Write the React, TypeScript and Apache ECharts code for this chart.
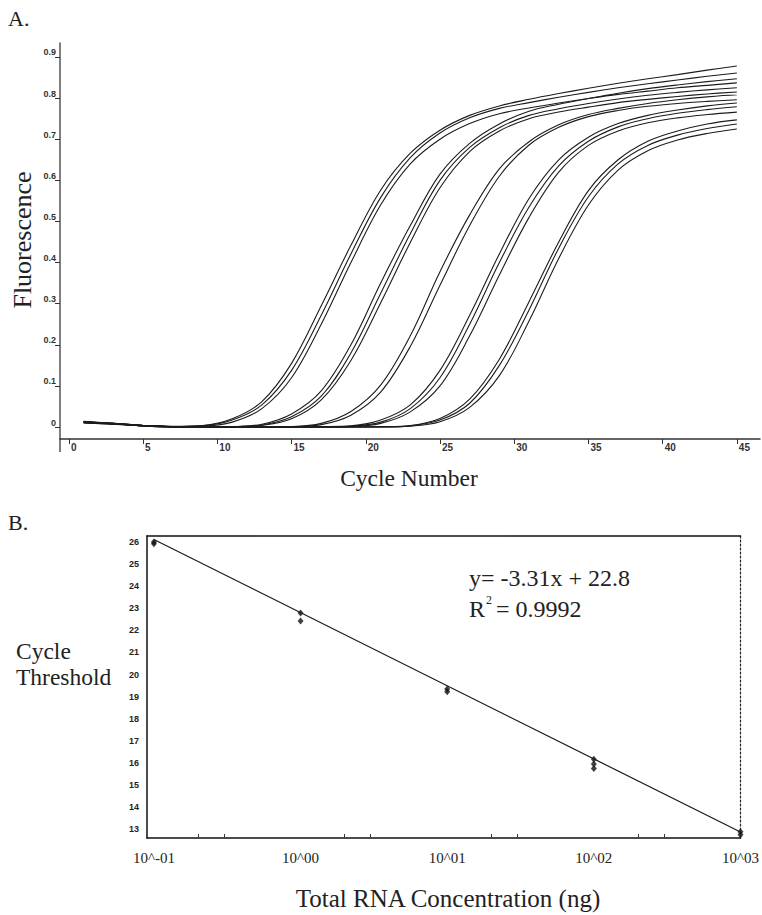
import React, { useEffect, useRef } from "react";
import * as echarts from "echarts";

// ---------- Panel A: amplification curves ----------
const cycles = [1, 3, 5, 7, 9, 11, 13, 15, 17, 19, 21, 23, 25, 27, 29, 31, 33, 35, 37, 39, 41, 43, 45];

const curveG1a = [0.014, 0.009, 0.004, 0.002, 0.004, 0.020, 0.062, 0.155, 0.295, 0.442, 0.576, 0.666, 0.722, 0.758, 0.781, 0.797, 0.811, 0.824, 0.836, 0.847, 0.857, 0.868, 0.878];
const curveG1b = [0.012, 0.008, 0.004, 0.001, 0.003, 0.017, 0.054, 0.138, 0.272, 0.421, 0.558, 0.655, 0.715, 0.752, 0.775, 0.789, 0.802, 0.814, 0.825, 0.835, 0.844, 0.853, 0.861];
const curveG1c = [0.010, 0.007, 0.003, 0.001, 0.002, 0.012, 0.045, 0.120, 0.250, 0.400, 0.540, 0.640, 0.700, 0.738, 0.762, 0.776, 0.788, 0.799, 0.809, 0.817, 0.825, 0.831, 0.837];
const curveG2a = [0.013, 0.009, 0.004, 0.001, 0.000, 0.001, 0.007, 0.032, 0.088, 0.200, 0.350, 0.490, 0.615, 0.690, 0.737, 0.768, 0.785, 0.799, 0.812, 0.823, 0.832, 0.840, 0.847];
const curveG2b = [0.011, 0.008, 0.003, 0.000, 0.000, 0.001, 0.005, 0.025, 0.075, 0.180, 0.325, 0.470, 0.600, 0.680, 0.728, 0.758, 0.774, 0.787, 0.798, 0.807, 0.814, 0.820, 0.825];
const curveG2c = [0.012, 0.008, 0.004, 0.001, 0.000, 0.000, 0.004, 0.020, 0.066, 0.162, 0.302, 0.449, 0.582, 0.670, 0.720, 0.750, 0.766, 0.778, 0.789, 0.797, 0.804, 0.810, 0.815];
const curveG3a = [0.010, 0.007, 0.003, 0.000, 0.000, 0.000, 0.000, 0.001, 0.009, 0.038, 0.102, 0.222, 0.378, 0.516, 0.628, 0.694, 0.735, 0.760, 0.775, 0.787, 0.796, 0.803, 0.808];
const curveG3b = [0.012, 0.008, 0.003, 0.001, 0.000, 0.000, 0.000, 0.001, 0.006, 0.029, 0.085, 0.196, 0.345, 0.490, 0.610, 0.686, 0.729, 0.755, 0.770, 0.780, 0.787, 0.792, 0.796];
const curveG4a = [0.013, 0.009, 0.004, 0.001, 0.000, 0.000, 0.000, 0.000, 0.001, 0.003, 0.017, 0.054, 0.138, 0.272, 0.421, 0.556, 0.650, 0.705, 0.738, 0.758, 0.771, 0.781, 0.788];
const curveG4b = [0.011, 0.008, 0.003, 0.001, 0.000, 0.000, 0.000, 0.000, 0.000, 0.002, 0.012, 0.045, 0.120, 0.250, 0.400, 0.535, 0.635, 0.695, 0.730, 0.750, 0.763, 0.772, 0.779];
const curveG4c = [0.012, 0.008, 0.004, 0.001, 0.000, 0.000, 0.000, 0.000, 0.000, 0.001, 0.009, 0.037, 0.100, 0.222, 0.370, 0.510, 0.620, 0.685, 0.720, 0.740, 0.752, 0.760, 0.766];
const curveG5a = [0.013, 0.009, 0.004, 0.001, 0.000, 0.000, 0.000, 0.000, 0.000, 0.000, 0.001, 0.004, 0.021, 0.068, 0.165, 0.305, 0.450, 0.575, 0.650, 0.695, 0.720, 0.737, 0.747];
const curveG5b = [0.011, 0.008, 0.003, 0.000, 0.000, 0.000, 0.000, 0.000, 0.000, 0.000, 0.000, 0.003, 0.017, 0.058, 0.150, 0.285, 0.435, 0.560, 0.640, 0.685, 0.710, 0.726, 0.737];
const curveG5c = [0.012, 0.008, 0.004, 0.001, 0.000, 0.000, 0.000, 0.000, 0.000, 0.000, 0.000, 0.002, 0.013, 0.048, 0.125, 0.258, 0.410, 0.540, 0.625, 0.672, 0.698, 0.714, 0.725];

const curvesA = [
  curveG1a, curveG1b, curveG1c,
  curveG2a, curveG2b, curveG2c,
  curveG3a, curveG3b,
  curveG4a, curveG4b, curveG4c,
  curveG5a, curveG5b, curveG5c,
];

const xTicksA = [0, 5, 10, 15, 20, 25, 30, 35, 40, 45];
const xLabelsA = ["0", "5", "10", "15", "20", "25", "30", "35", "40", "45"];
const yTicksA = [0, 0.1, 0.2, 0.3, 0.4, 0.5, 0.6, 0.7, 0.8, 0.9];
const yLabelsA = ["0", "0.1", "0.2", "0.3", "0.4", "0.5", "0.6", "0.7", "0.8", "0.9"];

// ---------- Panel B: standard curve ----------
const concentrationNg = [0.1, 0.1, 1, 1, 10, 10, 100, 100, 100, 1000, 1000];
const cycleThreshold = [26.0, 25.92, 22.78, 22.42, 19.35, 19.22, 16.17, 15.95, 15.75, 12.88, 12.75];
const fitX = [0.1, 1000];
const fitY = [26.11, 12.87];

const xTicksB = [0.1, 1, 10, 100, 1000];
const xLabelsB = ["10^-01", "10^00", "10^01", "10^02", "10^03"];
const xMinorTicksB = [0.2, 0.3, 2, 3, 20, 30, 200, 300];
const yTicksB = [13, 14, 15, 16, 17, 18, 19, 20, 21, 22, 23, 24, 25, 26];
const yLabelsB = ["13", "14", "15", "16", "17", "18", "19", "20", "21", "22", "23", "24", "25", "26"];

const SERIF = "Liberation Serif, Times New Roman, DejaVu Serif, serif";
const NARROW = "Liberation Sans Narrow, Liberation Sans, Arial, sans-serif";

function pick(ticks: number[], labels: string[], v: number): string {
  const i = ticks.findIndex((t) => Math.abs(t - v) < 1e-6 * Math.max(1, Math.abs(t)));
  return i >= 0 ? labels[i] : "";
}

function serifText(text: string, x: number, y: number, size: number, extra: any = {}) {
  return {
    type: "text",
    x,
    y,
    ...extra,
    style: {
      text,
      fontFamily: SERIF,
      fontSize: size,
      fill: "#222",
      verticalAlign: "middle",
      ...(extra.style || {}),
    },
  };
}

export default function App() {
  const ref = useRef<HTMLDivElement>(null);

  useEffect(() => {
    document.body.style.margin = "0";
    if (!ref.current) return;
    const chart = echarts.init(ref.current, undefined, { renderer: "svg" });

    const lineSeries = curvesA.map((c, k) => ({
      type: "line",
      name: "curve" + k,
      xAxisIndex: 0,
      yAxisIndex: 0,
      data: cycles.map((x, i) => [x, c[i]]),
      smooth: 0.35,
      showSymbol: false,
      silent: true,
      lineStyle: { color: "#1c1c1c", width: 1.1 },
    }));

    chart.setOption({
      animation: false,
      backgroundColor: "#ffffff",
      grid: [
        { left: 60, top: 43, width: 700, height: 396 },
        { left: 147, top: 536, width: 597, height: 302 },
      ],
      xAxis: [
        {
          gridIndex: 0,
          type: "value",
          min: -0.6,
          max: 46.56,
          splitLine: { show: false },
          axisLine: { show: true, onZero: false, lineStyle: { color: "#333", width: 1.5 } },
          axisTick: { show: true, customValues: xTicksA, length: 5, lineStyle: { color: "#333", width: 1 } },
          axisLabel: {
            customValues: xTicksA,
            formatter: (v: number) => pick(xTicksA, xLabelsA, v),
            align: "left",
            padding: [0, 0, 0, 2],
            margin: 3,
            fontFamily: NARROW,
            fontWeight: "bold",
            fontSize: 10,
            color: "#333",
          },
        },
        {
          gridIndex: 1,
          type: "log",
          logBase: 10,
          min: 0.0897,
          max: 1000,
          splitLine: { show: false },
          axisLine: { show: true, onZero: false, lineStyle: { color: "#111", width: 1.5 } },
          axisTick: { show: true, inside: true, customValues: xMinorTicksB, length: 4, lineStyle: { color: "#333" } },
          minorTick: { show: false },
          axisLabel: {
            customValues: xTicksB,
            formatter: (v: number) => pick(xTicksB, xLabelsB, v),
            margin: 12,
            fontFamily: SERIF,
            fontSize: 15,
            color: "#222",
          },
        },
        {
          gridIndex: 1,
          type: "log",
          logBase: 10,
          min: 0.0897,
          max: 1000,
          position: "top",
          splitLine: { show: false },
          axisLine: { show: true, onZero: false, lineStyle: { color: "#111", width: 1.5 } },
          axisTick: { show: false },
          axisLabel: { show: false },
        },
      ],
      yAxis: [
        {
          gridIndex: 0,
          type: "value",
          min: -0.029,
          max: 0.934,
          splitLine: { show: false },
          axisLine: { show: true, onZero: false, lineStyle: { color: "#555", width: 1.5 } },
          axisTick: { show: true, customValues: yTicksA, length: 5, lineStyle: { color: "#333", width: 1 } },
          axisLabel: {
            customValues: yTicksA,
            formatter: (v: number) => pick(yTicksA, yLabelsA, v),
            verticalAlign: "bottom",
            margin: 4,
            fontFamily: NARROW,
            fontWeight: "bold",
            fontSize: 9,
            color: "#333",
          },
        },
        {
          gridIndex: 1,
          type: "value",
          min: 12.6,
          max: 26.27,
          splitLine: { show: false },
          axisLine: { show: true, onZero: false, lineStyle: { color: "#111", width: 1.5 } },
          axisTick: { show: false },
          axisLabel: {
            customValues: yTicksB,
            formatter: (v: number) => pick(yTicksB, yLabelsB, v),
            margin: 8,
            fontFamily: NARROW,
            fontWeight: "bold",
            fontSize: 9,
            color: "#222",
          },
        },
        {
          gridIndex: 1,
          type: "value",
          min: 12.6,
          max: 26.27,
          position: "right",
          splitLine: { show: false },
          axisLine: { show: true, onZero: false, lineStyle: { color: "#222", width: 1.2, type: [2, 2] } },
          axisTick: { show: false },
          axisLabel: { show: false },
        },
      ],
      series: [
        ...lineSeries,
        {
          type: "line",
          name: "fit",
          xAxisIndex: 1,
          yAxisIndex: 1,
          data: fitX.map((x, i) => [x, fitY[i]]),
          showSymbol: false,
          silent: true,
          lineStyle: { color: "#1a1a1a", width: 1.2 },
        },
        {
          type: "scatter",
          name: "ct",
          xAxisIndex: 1,
          yAxisIndex: 1,
          data: concentrationNg.map((x, i) => [x, cycleThreshold[i]]),
          symbol: "diamond",
          symbolSize: [6, 7],
          silent: true,
          itemStyle: { color: "#111" },
        },
      ],
      graphic: [
        serifText("A.", 8, 18, 22),
        serifText("B.", 8, 522, 22),
        serifText("Fluorescence", 22, 240, 26, {
          rotation: Math.PI / 2,
          style: { align: "center" },
        }),
        serifText("Cycle Number", 409, 478, 23.5, { style: { align: "center" } }),
        {
          type: "line",
          shape: { x1: 60, y1: 439, x2: 60, y2: 452 },
          style: { stroke: "#555", lineWidth: 1.5 },
        },
        serifText("Cycle", 16, 651, 23.5),
        serifText("Threshold", 16, 677, 23.5),
        serifText("y= -3.31x + 22.8", 469, 578, 24),
        serifText("R", 469, 609, 24),
        serifText("2", 486, 600, 12),
        serifText("= 0.9992", 496, 609, 24),
        serifText("Total RNA Concentration (ng)", 448, 898, 25, { style: { align: "center" } }),
      ],
    });

    return () => chart.dispose();
  }, []);

  return <div ref={ref} style={{ width: 762, height: 915 }} />;
}
